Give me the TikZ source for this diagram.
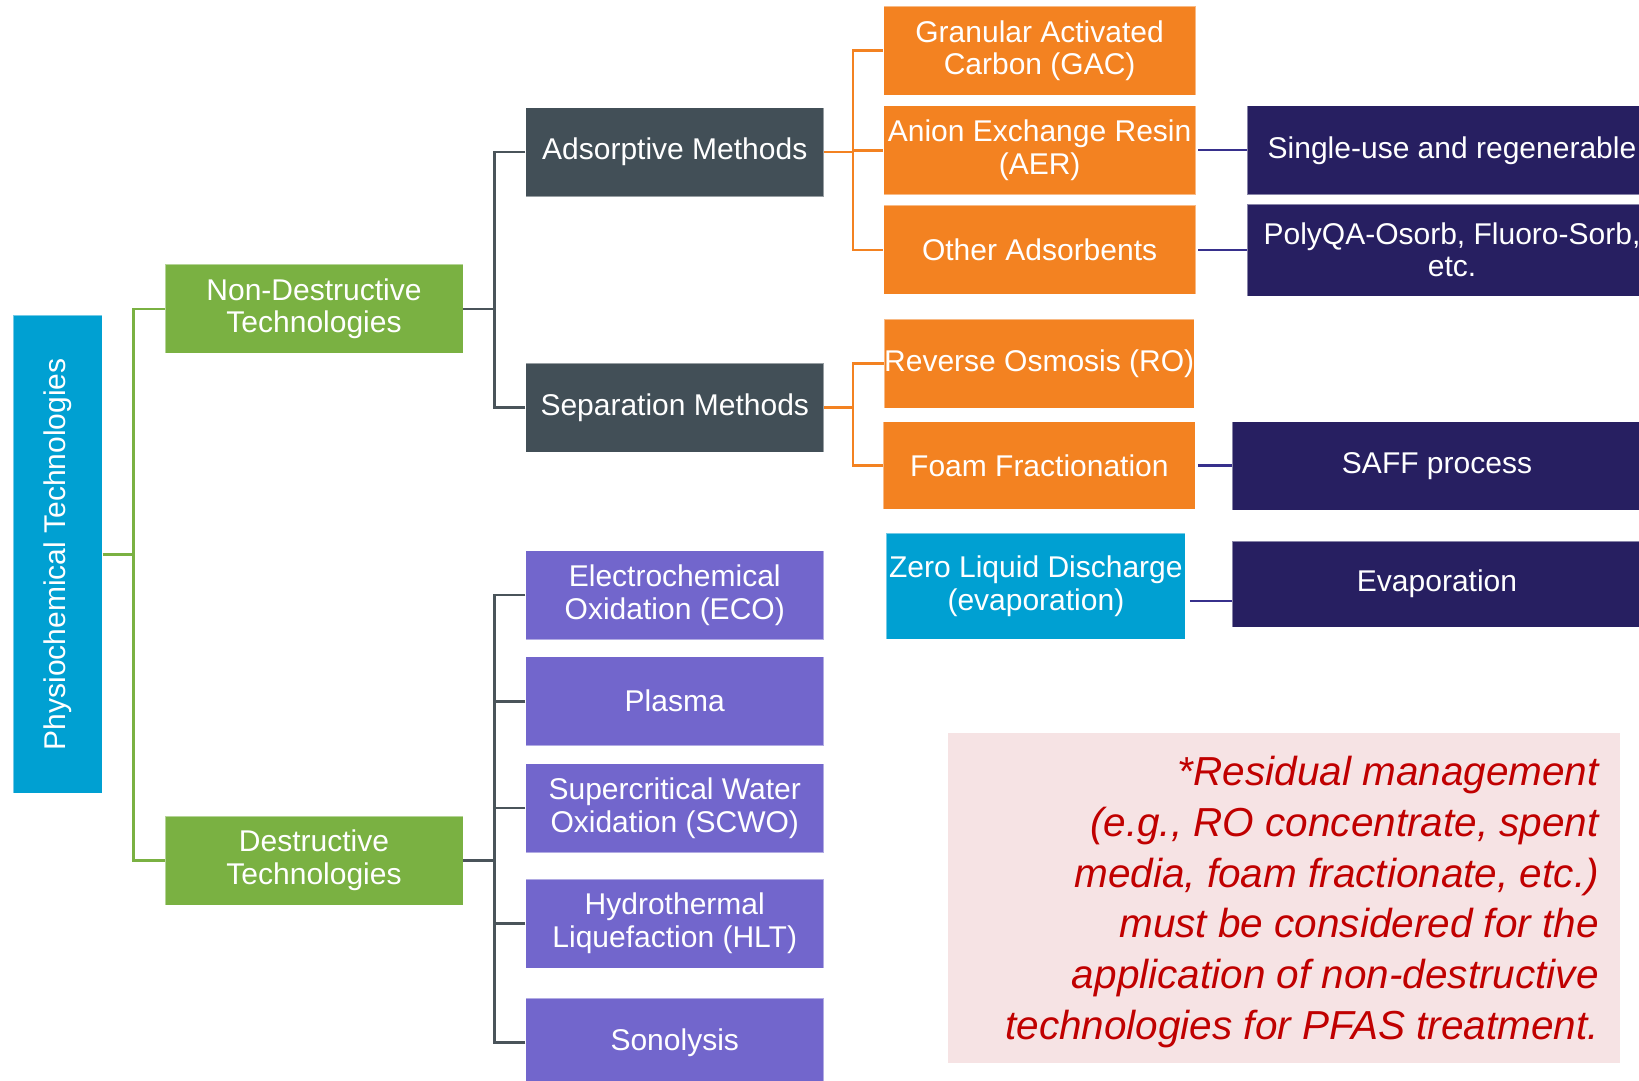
\documentclass[tikz,border=0pt]{standalone}
\usepackage{fontspec}
\setmainfont{Liberation Sans}
\definecolor{cBlue}{RGB}{0,160,210}
\definecolor{cGreen}{RGB}{122,177,66}
\definecolor{cGray}{RGB}{66,79,87}
\definecolor{cOrange}{RGB}{243,130,33}
\definecolor{cNavy}{RGB}{39,31,97}
\definecolor{cPurple}{RGB}{114,102,204}
\definecolor{cPink}{RGB}{246,227,228}
\definecolor{cRed}{RGB}{192,0,0}
\definecolor{cGrayLine}{RGB}{74,84,90}
\definecolor{cNavyLine}{RGB}{55,48,140}
\begin{document}
\begin{tikzpicture}[x=1pt,y=-1pt,
  box/.style={rectangle, inner sep=0pt, text=white, align=center,
    font=\fontsize{30}{32.6}\selectfont, draw=white, draw opacity=0.45, line width=0.8pt},
  greenbox/.style={box, fill=cGreen, minimum width=298pt, minimum height=89pt},
  graybox/.style={box, fill=cGray, minimum width=298pt, minimum height=89pt},
  purplebox/.style={box, fill=cPurple, minimum width=298pt, minimum height=89pt},
  orangebox/.style={box, fill=cOrange, minimum width=312pt, minimum height=89pt},
  navybox/.style={box, fill=cNavy, minimum width=410pt, minimum height=89pt},
  greenline/.style={draw=cGreen, line width=2.6pt},
  grayline/.style={draw=cGrayLine, line width=2.6pt},
  orangeline/.style={draw=cOrange, line width=2.6pt},
  navyline/.style={draw=cNavyLine, line width=2.2pt}
]
\useasboundingbox (0,0) rectangle (1639,1081);
\clip (0,0) rectangle (1639,1081);

% root
\node[box, fill=cBlue, rotate=90, minimum width=478.4pt, minimum height=89pt] (physio) at (57.8,554.2) {Physiochemical Technologies};

% level 1
\node[greenbox] (nondes) at (314,308.8) {Non-Destructive\\Technologies};
\node[greenbox] (des) at (314,860.5) {Destructive\\Technologies};

% level 2
\node[graybox] (ads) at (674.75,152.1) {Adsorptive Methods};
\node[graybox] (sep) at (674.75,407.5) {Separation Methods};
\node[purplebox] (eco) at (674.75,595) {Electrochemical\\Oxidation (ECO)};
\node[purplebox] (plasma) at (674.75,701.2) {Plasma};
\node[purplebox] (scwo) at (674.75,808) {Supercritical Water\\Oxidation (SCWO)};
\node[purplebox] (hlt) at (674.75,923.5) {Hydrothermal\\Liquefaction (HLT)};
\node[purplebox] (sono) at (674.75,1042.5) {Sonolysis};

% level 3
\node[orangebox] (gac) at (1039.6,50.7) {Granular Activated\\Carbon (GAC)};
\node[orangebox] (aer) at (1039.6,150.3) {Anion Exchange Resin\\(AER)};
\node[orangebox] (oth) at (1039.6,249.8) {Other Adsorbents};
\node[orangebox, minimum width=307pt] (ro) at (1039.2,363.7) {Reverse Osmosis (RO)};
\node[orangebox, minimum height=87.6pt] (foam) at (1039.4,465.5) {Foam Fractionation};
\node[box, fill=cBlue, minimum width=299pt, minimum height=105.7pt] (zld) at (1035.9,586.2) {Zero Liquid Discharge\\(evaporation)};

% level 4
\node[navybox] (single) at (1452,150.3) {Single-use and regenerable};
\node[navybox, minimum height=92pt] (poly) at (1452,249.9) {PolyQA-Osorb, Fluoro-Sorb,\\etc.};
\node[navybox, minimum height=88.6pt] (saff) at (1437,466) {SAFF process};
\node[navybox, minimum height=86.3pt] (evap) at (1437,584.2) {Evaporation};

% note
\node[rectangle, fill=cPink, inner sep=0pt, minimum width=672pt, minimum height=330pt] (note) at (1284,897.7) {};
\node[anchor=north east, inner sep=0pt, align=right, text=cRed,
  font=\fontsize{40.5}{50.8}\selectfont\itshape] (notetext) at (1599,756)
  {*Residual management\\(e.g., RO concentrate, spent\\media, foam fractionate, etc.)\\must be considered for the\\application of non-destructive\\technologies for PFAS treatment.};

% green connectors
\coordinate (gj) at (133.3,554.2);
\draw[greenline] (physio.south) -- (gj);
\draw[greenline] (nondes.west) -| (gj);
\draw[greenline] (des.west) -| (gj);

% gray connectors
\coordinate (g1) at (494.3,308.8);
\draw[grayline] (nondes.east) -- (g1);
\draw[grayline] (ads.west) -| (g1);
\draw[grayline] (sep.west) -| (g1);
\coordinate (g2) at (494.3,860.5);
\draw[grayline] (des.east) -- (g2);
\foreach \n in {eco,plasma,scwo,hlt,sono} \draw[grayline] (\n.west) -| (g2);

% orange connectors
\coordinate (o1) at (852.9,152.1);
\draw[orangeline] (ads.east) -- (o1);
\foreach \n in {gac,aer,oth} \draw[orangeline] (\n.west) -| (o1);
\coordinate (o2) at (852.9,407.5);
\draw[orangeline] (sep.east) -- (o2);
\foreach \n in {ro,foam} \draw[orangeline] (\n.west) -| (o2);

% navy connectors
\draw[navyline] ([xshift=2pt]aer.east) -- (aer.east -| single.west);
\draw[navyline] ([xshift=2pt]oth.east) -- (oth.east -| poly.west);
\draw[navyline] ([xshift=2pt]foam.east) -- (foam.east -| saff.west);
\draw[navyline] ([xshift=4pt,yshift=-14.5pt]zld.east) -- ([yshift=-14.5pt]zld.east -| evap.west);
\end{tikzpicture}
\end{document}
